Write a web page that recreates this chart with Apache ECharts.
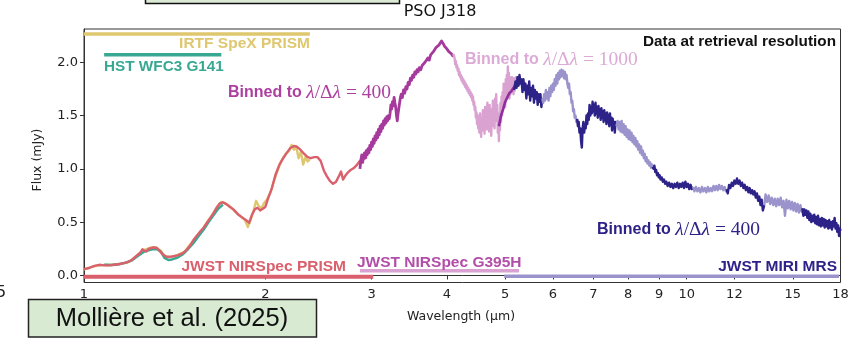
<!DOCTYPE html>
<html><head><meta charset="utf-8">
<script src="https://cdn.jsdelivr.net/npm/echarts@6/dist/echarts.min.js"></script>
<style>html,body{margin:0;padding:0;background:#fff;}#c{width:852px;height:340px;}</style>
</head><body><div id="c"></div><script>
// ---- data ----
const xTicks = [1,2,3,4,5,6,7,8,9,10,12,15,18];
const yTicks = [0,0.5,1.0,1.5,2.0];

const spexWl = [1.00,1.03,1.06,1.09,1.12,1.15,1.18,1.21,1.24,1.26,1.28,1.30,1.32,1.34,1.36,1.38,1.41,1.44,1.47,1.50,1.53,1.55,1.57,1.60,1.63,1.66,1.69,1.71,1.74,1.77,1.80,1.83,1.85,1.87,1.89,1.91,1.93,1.95,1.97,1.99,2.01,2.04,2.07,2.10,2.13,2.16,2.19,2.21,2.23,2.25,2.27,2.29,2.31,2.33,2.35,2.37];
const spexFlux = [0.055,0.080,0.095,0.100,0.098,0.110,0.120,0.160,0.215,0.240,0.255,0.265,0.258,0.235,0.185,0.170,0.180,0.200,0.225,0.290,0.350,0.390,0.420,0.500,0.560,0.640,0.690,0.680,0.655,0.615,0.575,0.540,0.520,0.455,0.520,0.600,0.700,0.650,0.630,0.680,0.710,0.780,0.900,1.000,1.080,1.140,1.170,1.225,1.180,1.210,1.100,1.160,1.040,1.110,1.070,1.090];

const hstWl = [1.08,1.11,1.14,1.17,1.20,1.23,1.26,1.28,1.30,1.32,1.34,1.36,1.38,1.40,1.43,1.46,1.49,1.52,1.55,1.58,1.61,1.64,1.67,1.70];
const hstFlux = [0.100,0.098,0.105,0.118,0.140,0.185,0.225,0.235,0.245,0.248,0.225,0.165,0.145,0.150,0.168,0.200,0.250,0.305,0.370,0.430,0.500,0.565,0.625,0.665];

const prismWl = [1.00,1.02,1.04,1.06,1.08,1.10,1.12,1.15,1.18,1.20,1.22,1.24,1.25,1.26,1.27,1.28,1.30,1.32,1.33,1.35,1.37,1.40,1.43,1.46,1.48,1.50,1.52,1.54,1.56,1.58,1.60,1.62,1.64,1.66,1.68,1.70,1.72,1.74,1.77,1.80,1.83,1.86,1.88,1.90,1.92,1.94,1.96,1.98,2.00,2.02,2.05,2.08,2.11,2.14,2.17,2.20,2.23,2.26,2.29,2.32,2.35,2.38,2.41,2.44,2.47,2.50,2.53,2.56,2.59,2.62,2.65,2.67,2.69,2.71,2.74,2.77,2.80,2.83,2.86,2.89,2.92,2.95];
const prismFlux = [0.060,0.070,0.090,0.100,0.095,0.095,0.100,0.108,0.125,0.145,0.180,0.215,0.245,0.232,0.225,0.250,0.262,0.260,0.250,0.200,0.175,0.178,0.188,0.210,0.240,0.280,0.335,0.375,0.415,0.450,0.495,0.540,0.585,0.635,0.675,0.685,0.672,0.650,0.620,0.575,0.545,0.515,0.495,0.570,0.620,0.635,0.610,0.625,0.645,0.720,0.820,0.950,1.040,1.100,1.150,1.195,1.215,1.205,1.175,1.140,1.110,1.100,1.110,1.110,1.075,0.985,0.930,0.885,0.860,0.880,0.935,0.975,0.900,0.930,0.965,0.990,1.005,1.030,1.065,1.090,1.100,1.110];

const g395Wl = [2.870,2.880,2.890,2.900,2.910,2.920,2.930,2.940,2.950,2.960,2.970,2.980,2.990,3.000,3.010,3.020,3.030,3.040,3.050,3.060,3.070,3.080,3.090,3.100,3.110,3.120,3.130,3.140,3.150,3.160,3.170,3.180,3.190,3.200,3.210,3.220,3.230,3.240,3.250,3.260,3.270,3.280,3.290,3.300,3.310,3.320,3.330,3.340,3.350,3.360,3.375,3.390,3.405,3.420,3.435,3.450,3.465,3.480,3.495,3.510,3.525,3.540,3.555,3.570,3.585,3.600,3.620,3.640,3.660,3.680,3.700,3.720,3.740,3.760,3.780,3.800,3.820,3.840,3.860,3.880,3.900,3.920,3.935,3.950,3.965,3.980,3.995,4.010,4.030,4.050,4.070,4.090,4.110];
const g395Flux = [1.00,1.08,1.13,1.06,1.12,1.15,1.10,1.17,1.13,1.19,1.15,1.22,1.18,1.25,1.21,1.28,1.24,1.31,1.27,1.34,1.29,1.37,1.32,1.40,1.35,1.42,1.38,1.45,1.41,1.47,1.43,1.49,1.45,1.50,1.47,1.52,1.60,1.56,1.63,1.59,1.67,1.62,1.58,1.50,1.45,1.52,1.57,1.62,1.67,1.70,1.67,1.74,1.71,1.77,1.75,1.81,1.79,1.85,1.83,1.88,1.86,1.91,1.89,1.93,1.91,1.95,1.93,1.97,1.96,2.00,1.99,2.04,2.02,2.07,2.06,2.10,2.12,2.14,2.13,2.16,2.18,2.20,2.19,2.17,2.15,2.16,2.13,2.12,2.10,2.11,2.08,2.06,2.07];

const g395HiWl = [4.10,4.11,4.12,4.13,4.14,4.15,4.16,4.17,4.18,4.19,4.20,4.21,4.22,4.23,4.24,4.25,4.26,4.27,4.28,4.29,4.30,4.31,4.32,4.33,4.34,4.35,4.36,4.37,4.38,4.39,4.40,4.41,4.42,4.43,4.44,4.45,4.46,4.47,4.48,4.49,4.50,4.51,4.52,4.53,4.54,4.55,4.56,4.57,4.58,4.59,4.60,4.61,4.62,4.63,4.64,4.65,4.66,4.67,4.68,4.69,4.70,4.71,4.72,4.73,4.74,4.75,4.76,4.77,4.78,4.79,4.80,4.81,4.82,4.83,4.84,4.85,4.86,4.87,4.88,4.89,4.90,4.91,4.92,4.93,4.94,4.95,4.96,4.97,4.98,4.99,5.00,5.01,5.02,5.03,5.04,5.05,5.06,5.07,5.08,5.09,5.10,5.11,5.12,5.13,5.14,5.15,5.16,5.17,5.18,5.19,5.20,5.21,5.22,5.23,5.24,5.25,5.26,5.27];
const g395HiFlux = [2.08,2.06,2.04,1.98,2.01,1.95,1.97,1.92,1.94,1.88,1.91,1.86,1.88,1.83,1.86,1.81,1.84,1.79,1.82,1.77,1.80,1.75,1.78,1.73,1.76,1.71,1.74,1.69,1.72,1.67,1.70,1.64,1.68,1.60,1.63,1.55,1.58,1.48,1.53,1.42,1.50,1.38,1.46,1.34,1.52,1.40,1.30,1.47,1.38,1.55,1.36,1.49,1.33,1.58,1.41,1.50,1.37,1.62,1.44,1.55,1.35,1.60,1.42,1.52,1.31,1.56,1.40,1.64,1.46,1.58,1.38,1.66,1.50,1.70,1.45,1.60,1.34,1.52,1.26,1.48,1.36,1.62,1.44,1.68,1.50,1.72,1.56,1.80,1.60,1.76,1.58,1.84,1.66,1.88,1.70,1.96,1.74,1.90,1.66,1.86,1.70,1.84,1.72,1.86,1.74,1.82,1.70,1.85,1.73,1.84,1.76,1.86,1.77,1.84,1.78,1.83,1.79,1.81];

const g395TailWl = [4.88,4.92,4.96,5.00,5.04,5.08,5.12,5.16,5.20,5.23];
const g395TailFlux = [1.40,1.50,1.56,1.63,1.67,1.71,1.73,1.76,1.78,1.80];

const miriWl = [5.17,5.20,5.22,5.24,5.26,5.28,5.30,5.32,5.34,5.36,5.38,5.40,5.42,5.44,5.46,5.48,5.50,5.52,5.54,5.56,5.58,5.60,5.62,5.64,5.66,5.68,5.70,5.72,5.74,5.76,
  5.78,5.80,5.82,5.84,5.86,5.88,5.90,5.92,5.94,5.96,5.98,6.00,6.02,6.04,6.06,6.08,6.10,6.12,6.14,6.16,6.18,6.20,6.22,6.24,6.26,6.28,6.30,6.32,6.34,6.36,6.38,6.40,6.42,6.44,6.46,6.48,6.50,6.52,6.54,6.56,6.58,
  6.60,6.62,6.64,6.66,6.68,6.70,6.72,6.74,6.76,6.78,6.80,6.82,6.84,6.86,6.88,6.90,6.92,6.94,6.96,6.98,7.00,7.02,7.04,7.06,7.08,7.10,7.12,7.14,7.16,7.18,7.20,7.22,7.24,7.26,7.28,7.30,7.32,7.34,7.36,7.38,7.40,7.42,7.44,7.46,7.48,7.50,7.52,7.54,7.56,7.58,7.60,7.62,7.65,
  7.68,7.71,7.74,7.77,7.80,7.83,7.86,7.89,7.92,7.95,7.98,8.01,8.04,8.07,8.10,8.13,8.16,8.19,8.22,8.25,8.28,8.31,8.34,8.37,8.40,8.43,8.46,8.49,8.52,8.55,8.58,8.61,8.64,8.67,8.70,8.73,8.76,8.78,
  8.81,8.84,8.87,8.90,8.93,8.96,8.99,9.02,9.05,9.09,9.13,9.17,9.21,9.25,9.30,9.35,9.40,9.45,9.50,9.55,9.60,9.65,9.70,9.75,9.80,9.85,9.90,9.95,10.00,10.05,10.10,10.15,10.20,10.25,
  10.30,10.36,10.42,10.48,10.54,10.60,10.66,10.72,10.78,10.84,10.90,10.96,11.02,11.08,11.14,11.20,11.26,11.32,11.38,11.44,11.50,11.56,11.62,11.65,
  11.70,11.76,11.82,11.88,11.94,12.00,12.06,12.12,12.18,12.24,12.30,12.36,12.42,12.48,12.54,12.60,12.66,12.72,12.78,12.84,12.90,12.96,13.02,13.08,13.14,13.20,13.26,13.32,13.38,13.45,
  13.52,13.60,13.68,13.76,13.84,13.92,14.00,14.08,14.16,14.24,14.32,14.40,14.48,14.56,14.64,14.72,14.80,14.88,14.96,15.04,15.12,15.20,15.28,15.36,15.44,15.52,15.55,
  15.62,15.68,15.74,15.80,15.86,15.92,15.98,16.04,16.10,16.16,16.22,16.28,16.34,16.40,16.46,16.52,16.58,16.64,16.70,16.76,16.82,16.88,16.94,17.00,17.06,17.12,17.18,17.24,17.30,17.36,17.42,17.48,17.54,17.60,17.66,17.72,17.78,17.84,17.90,17.96,18.00];
const miriFlux = [1.74,1.82,1.76,1.86,1.78,1.88,1.80,1.84,1.72,1.84,1.74,1.80,1.66,1.78,1.70,1.82,1.64,1.76,1.68,1.78,1.62,1.74,1.66,1.72,1.60,1.70,1.63,1.70,1.58,1.66,
  1.62,1.70,1.64,1.74,1.66,1.72,1.64,1.76,1.68,1.78,1.72,1.80,1.74,1.84,1.78,1.88,1.80,1.90,1.84,1.92,1.86,1.93,1.87,1.92,1.85,1.91,1.84,1.88,1.80,1.76,1.80,1.70,1.72,1.62,1.64,1.54,1.56,1.48,1.50,1.44,1.47,
  1.40,1.44,1.34,1.38,1.26,1.20,1.38,1.44,1.34,1.42,1.38,1.50,1.42,1.52,1.46,1.60,1.50,1.58,1.52,1.63,1.54,1.60,1.50,1.62,1.52,1.58,1.48,1.59,1.50,1.56,1.46,1.57,1.48,1.54,1.44,1.55,1.46,1.52,1.42,1.53,1.44,1.50,1.40,1.52,1.42,1.48,1.36,1.47,1.38,1.44,1.34,1.44,1.40,
  1.45,1.37,1.44,1.35,1.45,1.34,1.42,1.32,1.40,1.30,1.37,1.28,1.36,1.27,1.34,1.25,1.31,1.23,1.29,1.21,1.26,1.18,1.23,1.15,1.21,1.13,1.17,1.10,1.14,1.07,1.11,1.05,1.08,1.03,1.06,1.01,1.04,1.02,
  1.00,1.03,0.97,0.99,0.94,0.96,0.92,0.94,0.90,0.92,0.88,0.90,0.86,0.88,0.84,0.87,0.83,0.86,0.82,0.86,0.83,0.87,0.82,0.86,0.83,0.87,0.82,0.88,0.83,0.86,0.81,0.85,0.81,0.83,
  0.79,0.83,0.79,0.82,0.78,0.83,0.79,0.82,0.78,0.83,0.79,0.82,0.79,0.84,0.80,0.84,0.80,0.85,0.81,0.84,0.80,0.83,0.79,0.81,
  0.77,0.85,0.82,0.87,0.84,0.89,0.86,0.91,0.86,0.89,0.84,0.87,0.82,0.85,0.80,0.83,0.78,0.82,0.77,0.80,0.76,0.79,0.73,0.77,0.70,0.74,0.66,0.71,0.61,0.66,
  0.76,0.69,0.75,0.67,0.73,0.66,0.72,0.65,0.72,0.66,0.73,0.64,0.70,0.56,0.71,0.63,0.70,0.62,0.69,0.61,0.68,0.60,0.67,0.59,0.66,0.60,0.63,
  0.56,0.62,0.57,0.61,0.54,0.60,0.52,0.58,0.50,0.56,0.51,0.57,0.49,0.55,0.48,0.56,0.47,0.53,0.46,0.54,0.47,0.53,0.45,0.52,0.46,0.51,0.44,0.52,0.45,0.50,0.43,0.51,0.46,0.54,0.44,0.49,0.41,0.47,0.37,0.44,0.42];
const miriEdges = [5.17,5.77,6.59,7.66,8.79,10.27,11.66,13.47,15.58,18.01];

// instrument coverage (µm)
const spexRange = [1.00, 2.37];
const hstRange = [1.08, 1.69];
const prismRange = [1.00, 3.02];
const g395Range = [2.87, 5.27];
const miriRange = [4.98, 17.9];

// ---- chart ----
const C = {
  spex:'#dfc76f', hst:'#39a893', prism:'#d9606c', g395:'#a6399c', g395hi:'#d9a2d0',
  g395tail:'#8f2f9c', navy:'#2d2288', lav:'#9b94cc'
};
const pairs = (w,f) => w.map((x,i)=>[x,f[i]]);
function lineS(data, color, width, z){
  return {type:'line', data, showSymbol:false, symbol:'none', silent:true, animation:false, clip:true,
    lineStyle:{color, width, join:'round'}, z};
}
const series = [];
// coverage bars
series.push(lineS([[spexRange[0],2.265],[spexRange[1],2.265]], C.spex, 3.5, 2));
series.push(lineS([[hstRange[0],2.07],[hstRange[1],2.07]], C.hst, 3.5, 2));
series.push(lineS([[prismRange[0],-0.012],[prismRange[1],-0.012]], C.prism, 4, 2));
series.push(lineS([[g395Range[0],0.044],[g395Range[1],0.044]], C.g395hi, 3.5, 2));
series.push(lineS([[miriRange[0],-0.008],[miriRange[1],-0.008]], C.lav, 3.5, 2));
// spectra
series.push(lineS(pairs(spexWl,spexFlux), C.spex, 2.4, 3));
series.push(lineS(pairs(hstWl,hstFlux), C.hst, 2.4, 4));
series.push(lineS(pairs(prismWl,prismFlux), C.prism, 2.4, 5));
series.push(lineS(pairs(g395Wl,g395Flux), C.g395, 2.8, 6));
series.push(lineS(pairs(g395HiWl,g395HiFlux), C.g395hi, 2.4, 6));
series.push(lineS(pairs(g395TailWl,g395TailFlux), C.g395tail, 2.6, 7));
for(let k=0;k<miriEdges.length-1;k++){
  const idx=[];
  miriWl.forEach((w,i)=>{ if(w>=miriEdges[k] && w<miriEdges[k+1]) idx.push(i); });
  if(idx.length && idx[0]>0) idx.unshift(idx[0]-1);
  series.push(lineS(idx.map(i=>[miriWl[i],miriFlux[i]]), k%2===0?C.navy:C.lav, 2.4, 8));
}

const sans = 'Liberation Sans, Arial, sans-serif';
const serif = 'Liberation Serif, DejaVu Serif, serif';
function binned(color, num){
  return {text:`{b|Binned to }{i|λ}{r|/Δ}{i|λ}{r| = ${num}}`, rich:{
    b:{fontFamily:sans, fontWeight:'bold', fontSize:16, fill:color, color},
    i:{fontFamily:serif, fontStyle:'italic', fontSize:19.5, fill:color, color},
    r:{fontFamily:serif, fontSize:19.5, fill:color, color}}};
}
function label(x,y,text,color,align,size){
  return {type:'text', x, y, z:50, silent:true, style:{text, fill:color,
    font:`bold ${size||15.5}px ${sans}`, align:align||'left', verticalAlign:'middle'}};
}
const graphic = [
  {type:'rect', shape:{x:145.5,y:-10,width:254,height:13.5}, style:{fill:'#dbead4', stroke:'#111', lineWidth:1.5}},
  {type:'text', x:440, y:12, style:{text:'PSO J318', font:'16px DejaVu Sans', fill:'#111', align:'center', verticalAlign:'middle'}},
  {type:'text', x:-4, y:293, style:{text:'5', font:'16px DejaVu Sans', fill:'#222', align:'left', verticalAlign:'middle'}},
  label(310,44,'IRTF SpeX PRISM',C.spex,'right',15.5),
  label(104,67,'HST WFC3 G141',C.hst,'left',15.3),
  label(836,42,'Data at retrieval resolution','#111','right',15.3),
  label(346,267,'JWST NIRSpec PRISM',C.prism,'right',15.5),
  label(357,263,'JWST NIRSpec G395H','#b24ea8','left',15.5),
  label(837,267,'JWST MIRI MRS',C.navy,'right',15.5),
  {type:'text', x:228, y:93, z:50, style:Object.assign(binned('#ad3f9f','400'),{align:'left',verticalAlign:'middle'})},
  {type:'text', x:465, y:60, z:50, style:Object.assign(binned('#dcaad6','1000'),{align:'left',verticalAlign:'middle'})},
  {type:'text', x:597, y:230, z:50, style:Object.assign(binned(C.navy,'400'),{align:'left',verticalAlign:'middle'})},
  {type:'text', x:38, y:160, rotation:Math.PI/2, style:{text:'Flux (mJy)', font:'12.5px DejaVu Sans', fill:'#222', align:'center', verticalAlign:'middle'}},
  {type:'text', x:461, y:317, style:{text:'Wavelength (µm)', font:'12.5px DejaVu Sans', fill:'#222', align:'center', verticalAlign:'middle'}},
  {type:'rect', shape:{x:28.5,y:299.5,width:288,height:37.5}, style:{fill:'#d9ead3', stroke:'#222', lineWidth:1.5}},
  {type:'text', x:172, y:318.5, style:{text:'Mollière et al. (2025)', font:'25.5px Liberation Sans', fill:'#111', align:'center', verticalAlign:'middle'}}
];

const chart = echarts.init(document.getElementById('c'), null, {renderer:'canvas'});
chart.setOption({
  animation:false,
  backgroundColor:'#fff',
  grid:{left:84, right:11.5, top:29, bottom:57.5, show:true, borderColor:'#333', borderWidth:1, containLabel:false, outerBoundsMode:'none'},
  xAxis:{type:'log', logBase:10, min:1, max:18,
    axisLine:{show:true, lineStyle:{color:'#333', width:1}},
    axisTick:{show:true, length:4, customValues:xTicks, lineStyle:{color:'#333'}},
    minorTick:{show:false}, splitLine:{show:false},
    axisLabel:{customValues:xTicks, formatter:v=>String(Math.round(v)), fontSize:13, fontFamily:'DejaVu Sans', color:'#222', margin:6}},
  yAxis:{type:'value', min:-0.066, max:2.312,
    axisLine:{show:true, lineStyle:{color:'#333', width:1}},
    axisTick:{show:true, length:4, customValues:yTicks, lineStyle:{color:'#333'}},
    splitLine:{show:false},
    axisLabel:{customValues:yTicks, formatter:v=>v.toFixed(1), fontSize:13, fontFamily:'DejaVu Sans', color:'#222', margin:6}},
  series, graphic
});
</script></body></html>
